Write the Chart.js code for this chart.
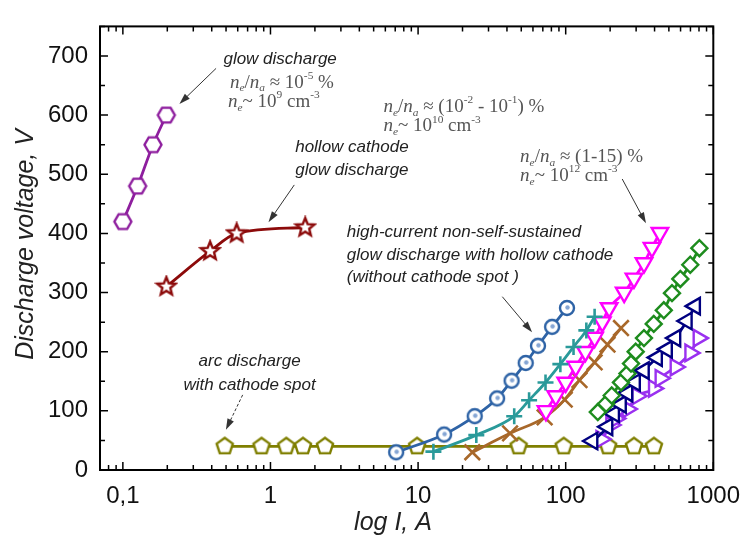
<!DOCTYPE html>
<html>
<head>
<meta charset="utf-8">
<script src="https://cdn.jsdelivr.net/npm/chart.js@4.4.0/dist/chart.umd.min.js"></script>
<style>
  html, body { margin: 0; padding: 0; background: #fff; }
</style>
</head>
<body>
<canvas id="chart" width="752" height="541"></canvas>
<script>
// current (A) and voltage (V)
const glowI = [0.1, 0.126, 0.16, 0.197];
const glowU = [420, 480, 550, 600];

const hollowI = [0.197, 0.39, 0.59, 1.72];
const hollowU = [310, 370, 400, 410];

const arcI = [0.49, 0.87, 1.28, 1.66, 2.34, 9.85, 48, 97, 194, 290, 396];
const arcU = [40, 40, 40, 40, 40, 40, 40, 40, 40, 40, 40];

const blueI = [7.1, 15, 24.2, 34.3, 43, 53.6, 64.9, 80.9, 102];
const blueU = [30, 60, 91, 121, 151, 181, 210, 242, 274];

const tealI = [12.7, 24.8, 44.8, 56.5, 73, 92, 113, 138, 157];
const tealU = [31, 59, 91, 118, 148, 179, 208, 236, 259];

const magentaI = [73.5, 85.7, 100, 117, 136, 157, 177, 197, 249, 290, 339, 384, 435];
const magentaU = [100, 125, 148, 175, 200, 224, 250, 274, 300, 324, 350, 376, 401];

const brownI = [23.3, 42, 72, 98.5, 124, 157, 192, 237];
const brownU = [30, 62, 89, 119, 152, 182, 212, 240];

const greenI = [165, 188, 205, 237, 262, 277, 298, 339, 395, 462, 525, 598, 698, 805];
const greenU = [98, 112, 126, 148, 163, 180, 200, 223, 247, 270, 299, 323, 347, 375];

const navyI = [152, 192, 213, 237, 262, 295, 339, 416, 486, 554, 662, 753];
const navyU = [49, 73, 95, 111, 130, 148, 168, 190, 204, 223, 252, 277];

const violetI = [174, 203, 219, 262, 305, 395, 438, 554, 697, 793];
const violetU = [52, 76, 87, 103, 125, 138, 155, 174, 198, 223];

const xTickValues = [0.1, 1, 10, 100, 1000];
const xTickLabels = ['0,1', '1', '10', '100', '1000'];
const yTickValues = [0, 100, 200, 300, 400, 500, 600, 700];

function points(xs, ys) {
  return xs.map((x, i) => ({ x: x, y: ys[i] }));
}

// hollow marker images for shapes Chart.js does not have
function marker(size, color, path) {
  const c = document.createElement('canvas');
  c.width = size; c.height = size;
  const g = c.getContext('2d');
  g.lineWidth = 2.4;
  g.strokeStyle = color;
  g.fillStyle = '#fff';
  g.beginPath();
  path(g, size / 2, size / 2);
  g.closePath();
  g.fill();
  g.stroke();
  return c;
}

function polygon(n, r, rot) {
  return (g, cx, cy) => {
    for (let k = 0; k < n; k++) {
      const a = rot + k * 2 * Math.PI / n;
      g.lineTo(cx + r * Math.cos(a), cy + r * Math.sin(a));
    }
  };
}

function star(ro, ri) {
  return (g, cx, cy) => {
    for (let k = 0; k < 10; k++) {
      const r = k % 2 ? ri : ro;
      const a = -Math.PI / 2 + k * Math.PI / 5;
      g.lineTo(cx + r * Math.cos(a), cy + r * Math.sin(a));
    }
  };
}

const hexagon = marker(22, '#8E1E9E', polygon(6, 8.5, 0));
const starMark = marker(24, '#8C0A0A', star(9.5, 4.2));
const pentagon = marker(22, '#7F7F00', polygon(5, 8.5, -Math.PI / 2));
const circleDot = (() => {
  const c = marker(20, '#2E63A6', (g, cx, cy) => g.arc(cx, cy, 7, 0, 2 * Math.PI));
  const g = c.getContext('2d');
  g.fillStyle = '#86A6D4';
  g.beginPath();
  g.arc(10.5, 9.5, 2.2, 0, 2 * Math.PI);
  g.fill();
  return c;
})();

function series(data, color, style, extra) {
  return Object.assign({
    data: data,
    showLine: true,
    borderColor: color,
    backgroundColor: '#fff',
    borderWidth: 2.8,
    pointBorderColor: color,
    pointBackgroundColor: '#fff',
    pointBorderWidth: 2.4,
    pointStyle: style,
    pointRadius: 8,
    cubicInterpolationMode: 'monotone'
  }, extra || {});
}

function arrow(ctx, x1, y1, x2, y2, dash) {
  ctx.save();
  ctx.strokeStyle = '#333';
  ctx.fillStyle = '#333';
  ctx.lineWidth = 1;
  if (dash) ctx.setLineDash(dash);
  const a = Math.atan2(y2 - y1, x2 - x1);
  ctx.beginPath();
  ctx.moveTo(x1, y1);
  ctx.lineTo(x2 - 8 * Math.cos(a), y2 - 8 * Math.sin(a));
  ctx.stroke();
  ctx.setLineDash([]);
  ctx.beginPath();
  ctx.moveTo(x2, y2);
  ctx.lineTo(x2 - 11 * Math.cos(a) + 3.5 * Math.sin(a), y2 - 11 * Math.sin(a) - 3.5 * Math.cos(a));
  ctx.lineTo(x2 - 11 * Math.cos(a) - 3.5 * Math.sin(a), y2 - 11 * Math.sin(a) + 3.5 * Math.cos(a));
  ctx.closePath();
  ctx.fill();
  ctx.restore();
}

// runs: [text, style] with style '', 'i', 'sub', 'sup'
function formula(ctx, runs, x, y, size) {
  let cx = x;
  ctx.fillStyle = '#555';
  ctx.textBaseline = 'middle';
  ctx.textAlign = 'left';
  runs.forEach(([t, s]) => {
    const small = s === 'sub' || s === 'sup';
    const fs = small ? size * 0.6 : size;
    ctx.font = (s === 'i' || s === 'sub' ? 'italic ' : '') + fs + 'px "Liberation Serif", serif';
    const dy = s === 'sub' ? size * 0.3 : s === 'sup' ? -size * 0.35 : 0;
    ctx.fillText(t, cx, y + dy);
    cx += ctx.measureText(t).width;
  });
}

const annotations = {
  id: 'annotations',
  afterDraw(chart) {
    const { ctx, chartArea: a, scales: { x, y } } = chart;
    const X = v => x.getPixelForValue(v);
    const Y = v => y.getPixelForValue(v);

    // frame and inward ticks on all four sides
    ctx.save();
    ctx.strokeStyle = '#000';
    ctx.lineWidth = 1.5;
    ctx.beginPath();
    x.ticks.forEach(t => {
      const px = X(t.value);
      const lg = Math.log10(t.value);
      const len = Math.abs(lg - Math.round(lg)) < 1e-6 ? 8 : 5;
      ctx.moveTo(px, a.bottom); ctx.lineTo(px, a.bottom - len);
      ctx.moveTo(px, a.top); ctx.lineTo(px, a.top + len);
    });
    y.ticks.forEach(t => {
      const py = Y(t.value);
      const len = t.value % 100 === 0 ? 8 : 5;
      ctx.moveTo(a.left, py); ctx.lineTo(a.left + len, py);
      ctx.moveTo(a.right, py); ctx.lineTo(a.right - len, py);
    });
    ctx.stroke();
    ctx.lineWidth = 2;
    ctx.strokeRect(a.left, a.top, a.right - a.left, a.bottom - a.top);

    // axis titles
    ctx.fillStyle = '#222';
    ctx.font = 'italic 25px "Liberation Sans", Arial, sans-serif';
    ctx.textAlign = 'center';
    ctx.textBaseline = 'middle';
    ctx.fillText('log I, A', a.left + 293, a.bottom + 53);
    ctx.save();
    ctx.translate(26, a.top + 218);
    ctx.rotate(-Math.PI / 2);
    ctx.fillText('Discharge voltage, V', 0, 0);
    ctx.restore();

    // text labels
    ctx.font = 'italic 17px "Liberation Sans", Arial, sans-serif';
    ctx.fillStyle = '#222';
    ctx.textAlign = 'left';
    ctx.fillText('glow discharge', X(0.48), Y(695));
    ctx.fillText('hollow cathode', X(1.47), Y(546));
    ctx.fillText('glow discharge', X(1.47), Y(507));
    ctx.fillText('high-current non-self-sustained', X(3.29), Y(402));
    ctx.fillText('glow discharge with hollow cathode', X(3.29), Y(363));
    ctx.fillText('(without cathode spot )', X(3.29), Y(326));
    ctx.textAlign = 'center';
    ctx.fillText('arc discharge', X(0.722), Y(184));
    ctx.fillText('with cathode spot', X(0.722), Y(143));

    formula(ctx, [['n', 'i'], ['e', 'sub'], ['/', ''], ['n', 'i'], ['a', 'sub'], [' \u2248 10', ''], ['-5', 'sup'], [' %', '']], X(0.531), Y(655), 19);
    formula(ctx, [['n', 'i'], ['e', 'sub'], ['~ 10', ''], ['9', 'sup'], [' cm', ''], ['-3', 'sup']], X(0.515), Y(622), 19);
    formula(ctx, [['n', 'i'], ['e', 'sub'], ['/', ''], ['n', 'i'], ['a', 'sub'], [' \u2248 (10', ''], ['-2', 'sup'], [' - 10', ''], ['-1', 'sup'], [') %', '']], X(5.82), Y(614), 19);
    formula(ctx, [['n', 'i'], ['e', 'sub'], ['~ 10', ''], ['10', 'sup'], [' cm', ''], ['-3', 'sup']], X(5.82), Y(581), 19);
    formula(ctx, [['n', 'i'], ['e', 'sub'], ['/', ''], ['n', 'i'], ['a', 'sub'], [' \u2248 (1-15) %', '']], X(49.1), Y(529), 19);
    formula(ctx, [['n', 'i'], ['e', 'sub'], ['~ 10', ''], ['12', 'sup'], [' cm', ''], ['-3', 'sup']], X(49.1), Y(497), 19);

    arrow(ctx, X(0.428), Y(679), X(0.2415), Y(619));
    arrow(ctx, X(1.45), Y(482), X(0.97), Y(419));
    arrow(ctx, X(241.5), Y(492), X(350), Y(417));
    arrow(ctx, X(37.2), Y(293), X(59.2), Y(233));
    arrow(ctx, X(0.648), Y(127), X(0.499), Y(68), [3, 2]);
    ctx.restore();
  }
};

Chart.defaults.font.family = '"Liberation Sans", Arial, sans-serif';
Chart.defaults.color = '#111';

new Chart(document.getElementById('chart'), {
  type: 'scatter',
  data: {
    datasets: [
      series(points(glowI, glowU), '#8E1E9E', hexagon),
      series(points(hollowI, hollowU), '#8C0A0A', starMark),
      series(points(blueI, blueU), '#2E63A6', circleDot),
      series(points(tealI, tealU), '#2A9A9A', 'cross', { pointRadius: 8, pointBorderWidth: 2.6 }),
      series(points(magentaI, magentaU), '#FF00FF', 'triangle', { pointRadius: 9.5, pointRotation: 180 }),
      series(points(brownI, brownU), '#A8682A', 'crossRot', { pointRadius: 11, pointBorderWidth: 2.6 }),
      series(points(greenI, greenU), '#1E8C1E', 'rectRot', { pointRadius: 8 }),
      series(points(navyI, navyU), '#000080', 'triangle', { pointRadius: 9.5, pointRotation: -90 }),
      series(points(violetI, violetU), '#9A30F0', 'triangle', { pointRadius: 9.5, pointRotation: 90 }),
      series(points(arcI, arcU), '#7F7F00', pentagon)
    ]
  },
  options: {
    responsive: false,
    animation: false,
    devicePixelRatio: 1,
    layout: { padding: { left: 0, right: 32, top: 10, bottom: 0 } },
    plugins: {
      legend: { display: false },
      tooltip: { enabled: false }
    },
    scales: {
      x: {
        type: 'logarithmic',
        min: 0.07,
        max: 1000,
        grid: { display: false, drawTicks: false },
        border: { display: false },
        afterBuildTicks(scale) {
          const ticks = [];
          for (let e = -2; e <= 3; e++) {
            for (let m = 1; m <= 9; m++) {
              const v = +(m * Math.pow(10, e)).toPrecision(6);
              if (v >= scale.min - 1e-9 && v <= scale.max + 1e-9) ticks.push({ value: v });
            }
          }
          scale.ticks = ticks;
        },
        afterFit(scale) { scale.height = 71; },
        ticks: {
          autoSkip: false,
          maxRotation: 0,
          minRotation: 0,
          padding: 12,
          color: '#111',
          font: { size: 24 },
          callback(value) {
            const i = xTickValues.findIndex(v => Math.abs(v - value) < 1e-9);
            return i >= 0 ? xTickLabels[i] : '';
          }
        }
      },
      y: {
        min: 0,
        max: 750,
        grid: { display: false, drawTicks: false },
        border: { display: false },
        afterFit(scale) { scale.width = 100; },
        ticks: {
          stepSize: 50,
          autoSkip: false,
          padding: 12,
          color: '#111',
          font: { size: 24 },
          callback(value) {
            return yTickValues.includes(value) ? String(value) : '';
          }
        }
      }
    }
  },
  plugins: [annotations]
});
</script>
</body>
</html>
